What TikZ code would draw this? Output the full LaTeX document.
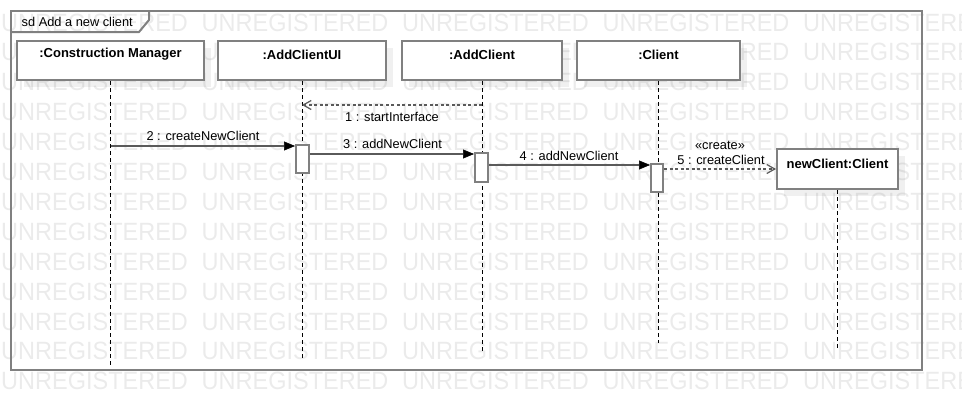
\documentclass[tikz,border=0pt]{standalone}
\usepackage{fontspec}
\setmainfont{Liberation Sans}
\usetikzlibrary{arrows.meta,shadows}
\definecolor{bordc}{HTML}{808080}
\definecolor{msgc}{HTML}{5A5A5A}
\begin{document}
\begin{tikzpicture}[x=1pt,y=-1pt,
  every node/.style={font=\fontsize{12.8}{15}\selectfont, inner sep=0pt},
  wm/.style={font=\fontsize{25}{25}\selectfont, text=black, text opacity=0.08, anchor=base west},
  frm/.style={draw=bordc, line width=2pt},
  head/.style={draw=bordc, line width=2pt, fill=white,
    drop shadow={shadow xshift=7pt, shadow yshift=-7pt, fill=black, opacity=0.06}},
  htxt/.style={font=\fontsize{13}{15}\selectfont\bfseries},
  act/.style={draw=bordc, line width=2pt, fill=white, minimum width=13pt},
  life/.style={draw=black, line width=1pt, dash pattern=on 4pt off 3pt},
  msg/.style={draw=msgc, line width=2pt, -{Triangle[length=11pt,width=9pt,color=black,line width=0.5pt]}},
  dmsg/.style={draw=msgc, line width=1.3pt, dash pattern=on 3pt off 2.5pt, -{Straight Barb[length=8pt,width=9pt,line width=1.2pt]}}
]
\useasboundingbox (0,0) rectangle (962,410);
% watermark
\foreach \r in {0,...,12}{
  \foreach \c in {0,...,4}{
    \node[wm] (w\r\c) at ({1+200.5*\c},{31+29.9*\r}) {\scalebox{0.94}[1]{UNREGISTERED}};
  }
}
% frame
\node[frm, minimum width=911pt, minimum height=359pt, anchor=north west] (frame) at (10,10) {};
\draw[frm] ([yshift=-22pt]frame.north west) -- ++(129,0) -- ++(10,-12) -- ++(0,-10);
\node[anchor=west] (tab) at (21.5,21.5) {sd Add a new client};
% lifeline ends
\coordinate (cmE) at (110.5,366);
\coordinate (uiE) at (302,360);
\coordinate (acE) at (482,353);
\coordinate (clE) at (658.5,343);
\coordinate (ncE) at (837.5,348);
% heads
\node[head, minimum width=187pt, minimum height=39pt] (cm) at (110.5,60.5) {};
\node[head, minimum width=168pt, minimum height=39pt] (ui) at (302,60.5) {};
\node[head, minimum width=160pt, minimum height=39pt] (ac) at (482,60.5) {};
\node[head, minimum width=163pt, minimum height=39pt] (cl) at (658.5,60.5) {};
\node[head, minimum width=121pt, minimum height=40pt] (nc) at (837.5,169) {};
\node[htxt] (cmt) at ([yshift=-14.5pt]cm.north) {:Construction Manager};
\node[htxt] (uit) at ([yshift=-14.5pt]ui.north) {:AddClientUI};
\node[htxt] (act) at ([yshift=-14.5pt]ac.north) {:AddClient};
\node[htxt] (clt) at ([yshift=-14.5pt]cl.north) {:Client};
\node[htxt] (nct) at ([yshift=-15.5pt]nc.north) {newClient:Client};
% lifelines
\draw[life] (cm.south) -- (cmE);
\draw[life] (ui.south) -- (uiE);
\draw[life] (ac.south) -- (acE);
\draw[life] (cl.south) -- (clE);
\draw[life] (nc.south) -- (ncE);
% activations
\node[act, minimum height=28pt] (aui) at (302.5,159) {};
\node[act, minimum height=29pt] (aac) at (481.5,167.5) {};
\node[act, minimum width=12pt, minimum height=28pt] (acl) at (657,178) {};
% messages
\draw[dmsg] (ac.south |- 0,105) -- (ui.south |- 0,105);
\node (l1) at (392,116.5) {1 : startInterface};
\draw[msg] (cm.south |- 0,146) -- (aui.west |- 0,146);
\node (l2) at (203,135.5) {2 : createNewClient};
\draw[msg] (aui.east |- 0,154) -- (aac.west |- 0,154);
\node (l3) at (392.5,143.5) {3 : addNewClient};
\draw[msg] (aac.east |- 0,165) -- (acl.west |- 0,165);
\node (l4) at (569,155.5) {4 : addNewClient};
\draw[dmsg] (acl.east |- nc.west) -- (nc.west);
\node (l5a) at (720,145.5) {«create»};
\node (l5) at (721,159.5) {5 : createClient};
\end{tikzpicture}
\end{document}
